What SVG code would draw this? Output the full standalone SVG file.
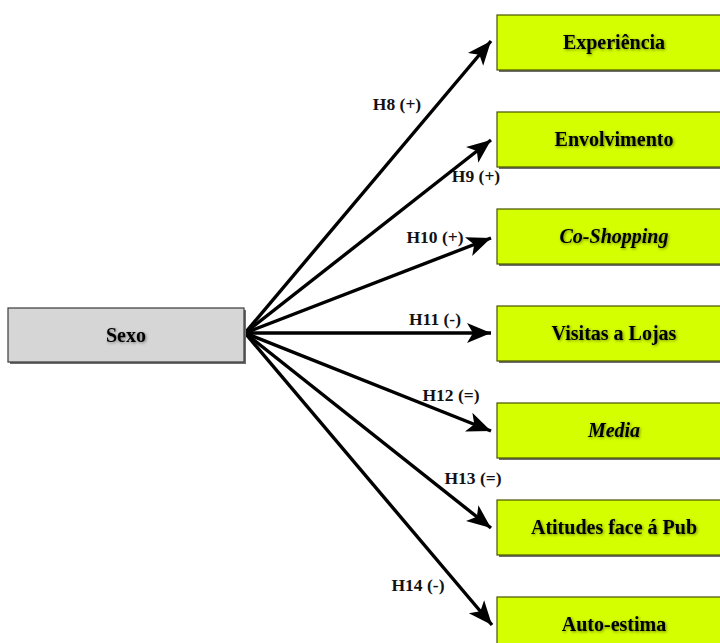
<svg xmlns="http://www.w3.org/2000/svg" width="720" height="643" viewBox="0 0 720 643">
  <defs>
    <style>
      .box { fill: #d4ff00; stroke: #4a5200; stroke-width: 1.2; }
      .src { fill: #d6d6d6; stroke: #3a3a3a; stroke-width: 1.2; }
      .shadow { fill: #6e6e6e; }
      .name { font-family: "Liberation Serif", "Times New Roman", serif; font-weight: bold; font-size: 20px; fill: #000; text-anchor: middle; filter: url(#glow); }
      .hyp { font-family: "Liberation Serif", "Times New Roman", serif; font-weight: bold; font-size: 17.5px; fill: #111; text-anchor: middle; }
      .link { stroke: #000; stroke-width: 3.4; fill: none; marker-end: url(#head); }
    </style>
    <marker id="head" markerUnits="userSpaceOnUse" markerWidth="26" markerHeight="22" refX="24" refY="11" orient="auto" viewBox="0 0 26 22">
      <path d="M24,11 L0,1 L6,11 L0,21 Z" fill="#000"/>
    </marker>
    <filter id="glow" x="-20%" y="-40%" width="140%" height="180%">
      <feGaussianBlur in="SourceAlpha" stdDeviation="1.6" result="b"/>
      <feOffset in="b" dx="0.8" dy="1" result="o"/>
      <feFlood flood-color="#000" flood-opacity="0.45"/>
      <feComposite in2="o" operator="in" result="s"/>
      <feMerge>
        <feMergeNode in="s"/>
        <feMergeNode in="SourceGraphic"/>
      </feMerge>
    </filter>
  </defs>

  <!-- connectors -->
  <g id="connectors">
    <line class="link" x1="245" y1="333" x2="491" y2="41"/>
    <line class="link" x1="245" y1="333" x2="491" y2="140"/>
    <line class="link" x1="245" y1="333" x2="491" y2="238"/>
    <line class="link" x1="245" y1="333" x2="491" y2="333"/>
    <line class="link" x1="245" y1="333" x2="491" y2="431"/>
    <line class="link" x1="245" y1="333" x2="491" y2="528"/>
    <line class="link" x1="245" y1="333" x2="492" y2="625"/>
  </g>

  <!-- hypothesis labels -->
  <g id="labels">
    <text class="hyp" x="397" y="110">H8 (+)</text>
    <text class="hyp" x="476" y="182">H9 (+)</text>
    <text class="hyp" x="435" y="243">H10 (+)</text>
    <text class="hyp" x="435" y="325">H11 (-)</text>
    <text class="hyp" x="451" y="401">H12 (=)</text>
    <text class="hyp" x="473" y="484">H13 (=)</text>
    <text class="hyp" x="418" y="591">H14 (-)</text>
  </g>

  <g id="sexo">
    <rect class="shadow" x="10" y="310" width="236" height="54"/>
    <rect class="src" x="8" y="308" width="236" height="54"/>
    <text class="name" x="126" y="342">Sexo</text>
  </g>

  <g id="experiencia">
    <rect class="shadow" x="499" y="17" width="234" height="55"/>
    <rect class="box" x="497" y="15" width="234" height="55"/>
    <text class="name" x="614" y="49">Experiência</text>
  </g>

  <g id="envolvimento">
    <rect class="shadow" x="499" y="114" width="234" height="55"/>
    <rect class="box" x="497" y="112" width="234" height="55"/>
    <text class="name" x="614" y="146">Envolvimento</text>
  </g>

  <g id="coshopping">
    <rect class="shadow" x="499" y="211" width="234" height="55"/>
    <rect class="box" x="497" y="209" width="234" height="55"/>
    <text class="name" x="614" y="243" font-style="italic">Co-Shopping</text>
  </g>

  <g id="visitas">
    <rect class="shadow" x="499" y="308" width="234" height="55"/>
    <rect class="box" x="497" y="306" width="234" height="55"/>
    <text class="name" x="614" y="340">Visitas a Lojas</text>
  </g>

  <g id="media">
    <rect class="shadow" x="499" y="405" width="234" height="55"/>
    <rect class="box" x="497" y="403" width="234" height="55"/>
    <text class="name" x="614" y="437" font-style="italic">Media</text>
  </g>

  <g id="atitudes">
    <rect class="shadow" x="499" y="502" width="234" height="55"/>
    <rect class="box" x="497" y="500" width="234" height="55"/>
    <text class="name" x="614" y="534">Atitudes face á Pub</text>
  </g>

  <g id="autoestima">
    <rect class="shadow" x="499" y="599" width="234" height="55"/>
    <rect class="box" x="497" y="597" width="234" height="55"/>
    <text class="name" x="614" y="631">Auto-estima</text>
  </g>
</svg>
